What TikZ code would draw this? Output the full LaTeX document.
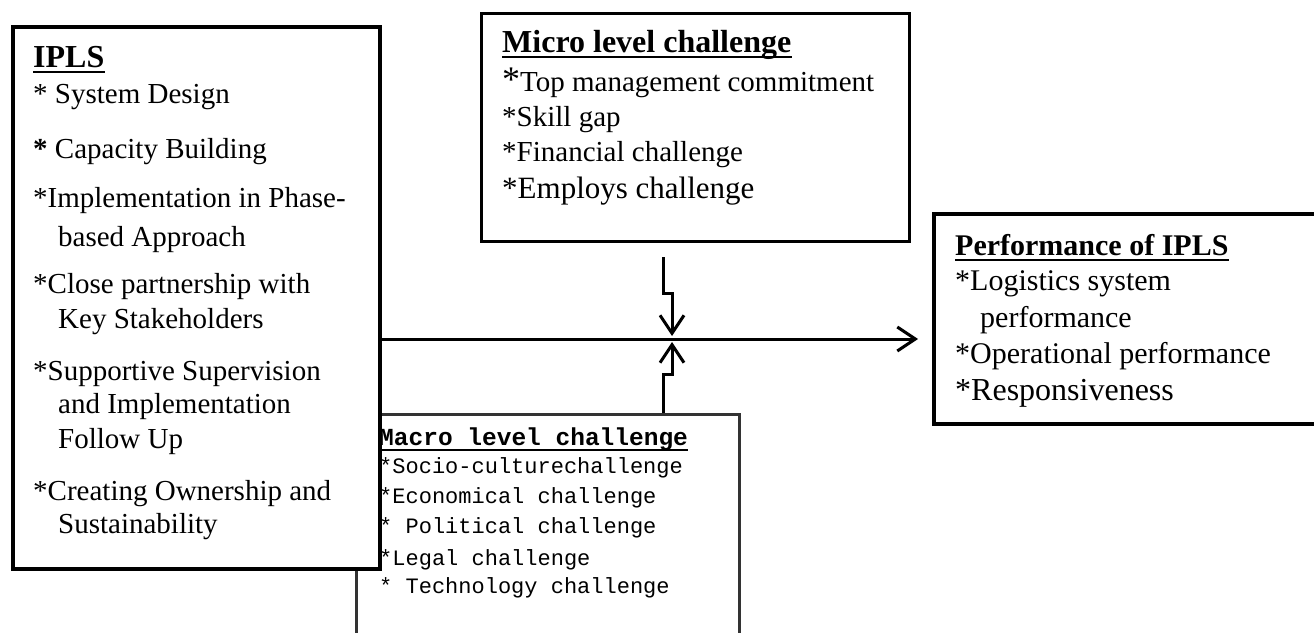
\documentclass[tikz,border=0pt]{standalone}
\usepackage{fontspec}
\setmainfont{Liberation Serif}
\newfontfamily\macrofont{Liberation Mono}
\usetikzlibrary{arrows.meta}

\tikzset{
    frame/.style={draw, line width=3.5pt, fill=white, anchor=north west, inner sep=0pt},
    line/.style={inner sep=0pt, anchor=base west, font=\fontsize{29pt}{29pt}\selectfont},
    head/.style={inner sep=0pt, anchor=base west, font=\bfseries\fontsize{32pt}{32pt}\selectfont},
    link/.style={line width=3pt, -{Straight Barb[length=18pt,width=24pt]}},
}

\begin{document}
\begin{tikzpicture}[x=1pt,y=-1pt]
        \useasboundingbox (0,0) rectangle (1314,632);
        \node[frame, line width=2.5pt, draw=black!80, minimum width=383pt, minimum height=260pt] (macro) at (355,413) {};
        \node[frame, line width=4pt, minimum width=367pt, minimum height=542pt] (ipls) at (11,25) {};
        \node[frame, line width=3pt, minimum width=428pt, minimum height=228pt] (micro) at (480,12) {};
        \node[frame, minimum width=420pt, minimum height=210pt] (perf) at (932,212) {};

        \node[head] (iplstitle) at (33,67) {IPLS};
        \node[head] (microtitle) at (502,52) {Micro level challenge};
        \node[head, font=\bfseries\fontsize{30pt}{30pt}\selectfont] (perftitle) at (955,255) {Performance of IPLS};
        \node[head, font=\macrofont\bfseries\fontsize{24.5pt}{24.5pt}\selectfont] (macrotitle) at (379,445) {Macro level challenge};
        \foreach \t in {iplstitle, microtitle, perftitle} {
            \draw[line width=2.5pt] ([yshift=-5pt]\t.base west) -- ([yshift=-5pt]\t.base east);
        }
        \draw[line width=2pt] ([yshift=-5pt]macrotitle.base west) -- ([yshift=-5pt]macrotitle.base east);

        \foreach \x/\y/\txt [count=\i] in {33/103/* System Design, 33/158/\textbf{*} Capacity Building,
                33/207/*Implementation in Phase-, 58/246/based Approach,
                33/293/*Close partnership with, 58/328/Key Stakeholders,
                33/380/*Supportive Supervision, 58/413/and Implementation, 58/448/Follow Up,
                33/500/*Creating Ownership and, 58/533/Sustainability} {
            \node[line] (ipls\i) at (\x,\y) {\txt};
        }
        \foreach \y/\txt [count=\i] in {91/{\fontsize{36pt}{36pt}\selectfont*}Top management commitment,
                126/*Skill gap, 161/*Financial challenge,
                198/{\fontsize{31pt}{31pt}\selectfont*Employs challenge}} {
            \node[line] (micro\i) at (502,\y) {\txt};
        }
        \foreach \x/\y/\txt [count=\i] in {955/290/*Logistics system, 980/327/performance,
                955/363/*Operational performance, 955/400/{\fontsize{32pt}{32pt}\selectfont*Responsiveness}} {
            \node[line, font=\fontsize{30pt}{30pt}\selectfont] (perf\i) at (\x,\y) {\txt};
        }
        \foreach \y/\txt [count=\i] in {473/*Socio-culturechallenge, 503/*Economical challenge,
                533/* Political challenge, 565/*Legal challenge, 593/* Technology challenge} {
            \node[line, font=\macrofont\fontsize{22pt}{22pt}\selectfont] (macro\i) at (379,\y) {\txt};
        }

        \coordinate (hub) at (672,339);
        \coordinate (upbend) at (663,293);
        \coordinate (lowbend) at (663,374);
        \draw[link, shorten >=14pt] (ipls.east |- hub) -- (perf.west |- hub);
        \draw[link] (micro.south -| upbend) ++(0,14) -- (upbend) -- (upbend -| hub) -- ([yshift=3pt]hub);
        \draw[link] (macro.north -| lowbend) -- (lowbend) -- (lowbend -| hub) -- ([yshift=-3pt]hub);
    \end{tikzpicture}
\end{document}
